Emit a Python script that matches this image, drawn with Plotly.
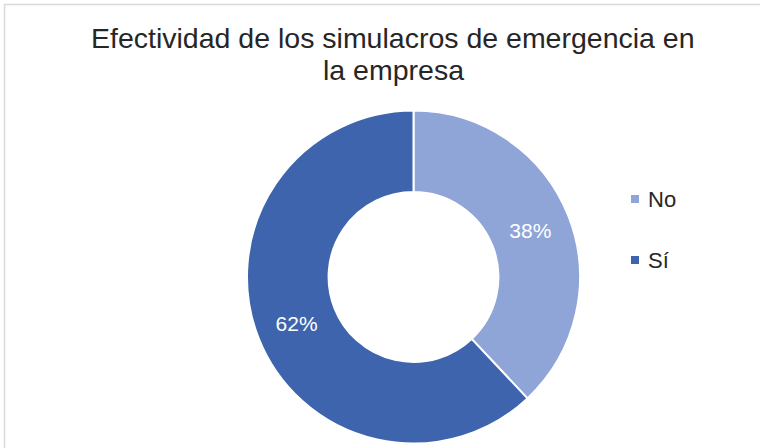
import plotly.graph_objects as go

labels = ["No", "Sí"]
values = [38, 62]
colors = ["#8FA5D7", "#3D64AD"]
title_lines = ["Efectividad de los simulacros de emergencia en", "la empresa"]

W, H = 760, 448
FONT = "Liberation Sans, Arial, sans-serif"

fig = go.Figure(go.Pie(
    labels=labels, values=values, sort=False, direction="clockwise", rotation=0,
    hole=0.51,
    marker=dict(colors=colors, line=dict(color="white", width=2)),
    texttemplate="%{percent:.0%}", textposition="inside",
    insidetextorientation="horizontal",
    textfont=dict(family=FONT, size=21, color="white"),
    domain=dict(x=[247 / W, 580 / W], y=[(H - 443.5) / H, (H - 110.5) / H]),
    showlegend=False, hoverinfo="label+percent",
))

shapes = [dict(type="rect", xref="paper", yref="paper",
               x0=4.5 / W, x1=1.05, y0=-0.05, y1=1 - 4.5 / H,
               line=dict(color="#D9D9D9", width=1.5), fillcolor="rgba(0,0,0,0)")]
annotations = []
leg_y = [199, 260]
for lab, col, yc in zip(labels, colors, leg_y):
    shapes.append(dict(type="rect", xref="paper", yref="paper",
                       x0=631 / W, x1=639 / W, y0=1 - (yc + 4) / H, y1=1 - (yc - 4) / H,
                       line=dict(width=0), fillcolor=col))
    annotations.append(dict(text=lab, xref="paper", yref="paper", x=646 / W, y=1 - yc / H,
                            xanchor="left", yanchor="middle", showarrow=False,
                            font=dict(family=FONT, size=22, color="#262626")))

# title lines (centre y of each line's text box)
title_y = [38, 70]
for line, yc in zip(title_lines, title_y):
    annotations.append(dict(text=line, xref="paper", yref="paper", x=393 / W, y=1 - yc / H,
                            xanchor="center", yanchor="middle", showarrow=False,
                            font=dict(family=FONT, size=28.5, color="#262626")))

fig.update_layout(
    width=W, height=H, margin=dict(l=0, r=0, t=0, b=0),
    paper_bgcolor="white", plot_bgcolor="white",
    shapes=shapes, annotations=annotations,
)
fig.write_html("out.html")
